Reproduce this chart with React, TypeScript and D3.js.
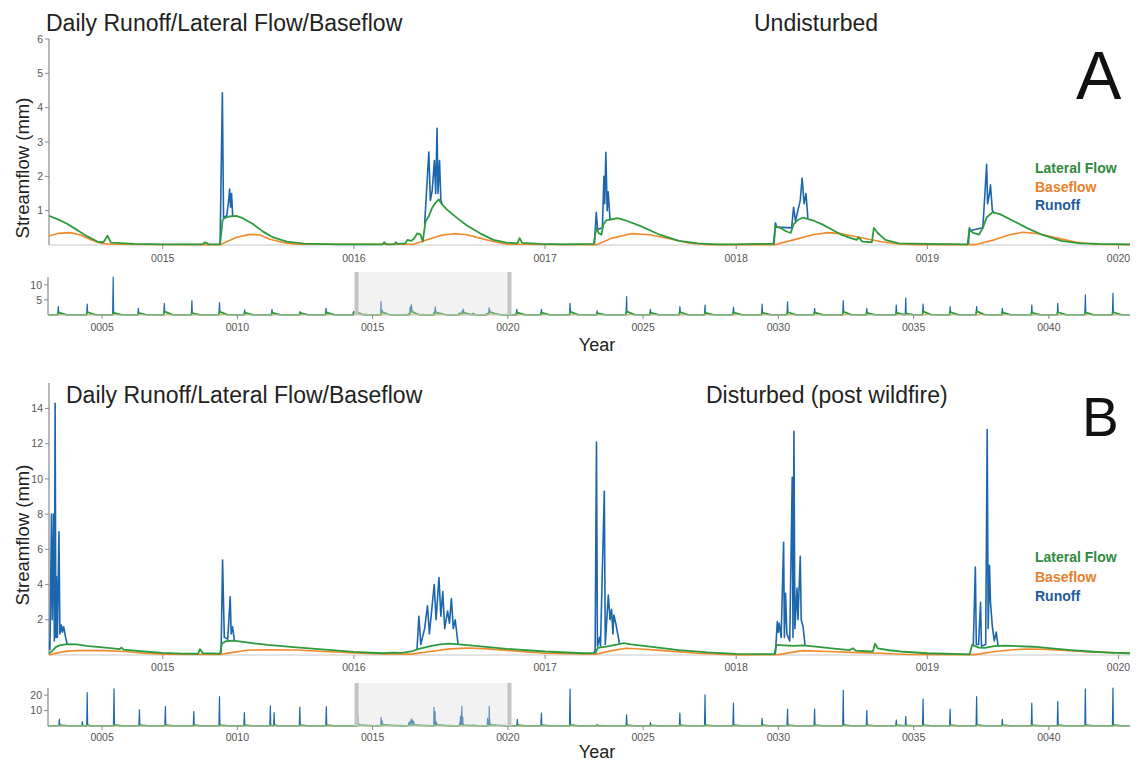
import React, { useEffect } from 'react';
import * as d3 from 'd3';

type P = [number, number];
type Ev = [number, number, number, number]; // year, runoff peak, lateral peak, baseflow peak

const W = 1137;
const H = 761;
const FOCUS_DOMAIN: [number, number] = [14.405, 20.06];
const CTX_DOMAIN: [number, number] = [3, 43];
const FX0 = 49, FX1 = 1130;
const CX0 = 48, CX1 = 1130;

const focusTicks = [15, 16, 17, 18, 19, 20];
const contextTicks = [5, 10, 15, 20, 25, 30, 35, 40];
const yTicksA = [1, 2, 3, 4, 5, 6];
const yTicksB = [2, 4, 6, 8, 10, 12, 14];
const ctxYTicksA = [5, 10];
const ctxYTicksB = [10, 20];
const legendNames = ['Lateral Flow', 'Baseflow', 'Runoff'];
const ctxEdgeFlow: P[] = [[3, 0.05], [43, 0.05]];

// ---------- Panel A (Undisturbed) ----------
const lateralA: P[] = [
  [14.405, 0.85], [14.455, 0.74], [14.499, 0.62], [14.552, 0.44], [14.605, 0.25], [14.658, 0.1], [14.69, 0.08],
  [14.711, 0.27], [14.729, 0.07], [14.853, 0.03], [15.0, 0.02], [15.207, 0.02], [15.224, 0.08], [15.24, 0.02],
  [15.3, 0.02], [15.313, 0.72], [15.322, 0.78], [15.348, 0.83], [15.384, 0.85], [15.419, 0.78], [15.472, 0.61],
  [15.525, 0.39], [15.578, 0.22], [15.649, 0.1], [15.738, 0.04], [15.915, 0.02], [16.15, 0.02], [16.159, 0.08],
  [16.17, 0.02], [16.21, 0.02], [16.219, 0.08], [16.23, 0.03], [16.27, 0.05], [16.28, 0.15], [16.3, 0.12],
  [16.314, 0.18], [16.332, 0.34], [16.349, 0.3], [16.36, 0.1], [16.375, 0.69], [16.392, 0.84], [16.409, 1.08],
  [16.427, 1.23], [16.444, 1.33], [16.461, 1.18], [16.487, 1.03], [16.539, 0.79], [16.591, 0.57], [16.66, 0.34],
  [16.729, 0.15], [16.798, 0.07], [16.855, 0.05], [16.867, 0.2], [16.88, 0.06], [16.97, 0.03], [17.1, 0.02],
  [17.255, 0.03], [17.268, 0.5], [17.28, 0.35], [17.295, 0.3], [17.305, 0.6], [17.32, 0.72], [17.35, 0.75],
  [17.38, 0.78], [17.42, 0.72], [17.5, 0.55], [17.6, 0.3], [17.7, 0.12], [17.8, 0.05], [17.9, 0.02], [18.0, 0.02],
  [18.1, 0.03], [18.195, 0.03], [18.205, 0.55], [18.23, 0.5], [18.26, 0.4], [18.285, 0.35], [18.3, 0.6],
  [18.32, 0.72], [18.35, 0.8], [18.4, 0.72], [18.45, 0.6], [18.5, 0.45], [18.55, 0.3], [18.6, 0.2], [18.63, 0.15],
  [18.64, 0.22], [18.66, 0.1], [18.71, 0.08], [18.72, 0.5], [18.74, 0.35], [18.78, 0.15], [18.85, 0.05],
  [19.0, 0.03], [19.21, 0.02], [19.22, 0.45], [19.24, 0.35], [19.27, 0.3], [19.29, 0.5], [19.31, 0.8],
  [19.34, 0.95], [19.38, 0.9], [19.45, 0.7], [19.52, 0.5], [19.6, 0.3], [19.7, 0.12], [19.8, 0.05], [19.9, 0.03],
  [20.06, 0.02],
];
const baseflowA: P[] = [
  [14.405, 0.26], [14.455, 0.34], [14.517, 0.36], [14.57, 0.29], [14.623, 0.15], [14.676, 0.05], [14.729, 0.02],
  [15.3, 0.01], [15.384, 0.22], [15.455, 0.31], [15.508, 0.29], [15.561, 0.17], [15.632, 0.07], [15.702, 0.02],
  [16.314, 0.02], [16.383, 0.15], [16.453, 0.28], [16.522, 0.33], [16.591, 0.3], [16.66, 0.2], [16.729, 0.1],
  [16.8, 0.02], [17.27, 0.01], [17.35, 0.2], [17.45, 0.33], [17.55, 0.3], [17.65, 0.18], [17.75, 0.06],
  [17.85, 0.01], [18.2, 0.01], [18.3, 0.15], [18.4, 0.3], [18.48, 0.36], [18.55, 0.33], [18.65, 0.22],
  [18.75, 0.1], [18.85, 0.03], [18.95, 0.01], [19.25, 0.01], [19.35, 0.15], [19.43, 0.3], [19.5, 0.37],
  [19.58, 0.33], [19.68, 0.2], [19.78, 0.08], [19.88, 0.02], [20.06, 0.01],
];
const runoffA: P[][] = [
  [[15.3, 0.02], [15.312, 4.43], [15.318, 0.8], [15.335, 0.85], [15.345, 1.3], [15.35, 1.63], [15.355, 1.1], [15.36, 1.5], [15.366, 0.84]],
  [[16.37, 0.6], [16.392, 2.71], [16.4, 1.3], [16.41, 1.6], [16.421, 2.46], [16.428, 1.5], [16.435, 3.4], [16.44, 1.5], [16.448, 2.46], [16.455, 1.3], [16.462, 1.18]],
  [[17.258, 0.03], [17.268, 0.95], [17.275, 0.45], [17.3, 0.5], [17.308, 2.0], [17.312, 1.2], [17.318, 2.7], [17.325, 1.0], [17.33, 1.55], [17.34, 0.74]],
  [[18.198, 0.03], [18.205, 0.65], [18.212, 0.52], [18.29, 0.5], [18.3, 1.1], [18.31, 0.7], [18.335, 1.3], [18.345, 1.95], [18.355, 1.2], [18.365, 1.5], [18.375, 0.78]],
  [[19.215, 0.02], [19.22, 0.5], [19.226, 0.42], [19.29, 0.5], [19.3, 1.4], [19.31, 2.35], [19.315, 1.2], [19.325, 1.5], [19.33, 1.75], [19.34, 1.0], [19.35, 0.94]],
];
const eventsA: Ev[] = [
  [3.38, 2.8, 0.9, 0.3], [4.45, 3.6, 1.0, 0.3], [5.41, 12.6, 0.8, 0.3], [6.34, 2.2, 0.7, 0.25], [7.3, 3.9, 1.2, 0.3],
  [8.32, 4.8, 0.6, 0.25], [9.34, 4.1, 1.1, 0.3], [10.27, 1.7, 0.8, 0.25], [11.28, 1.9, 0.8, 0.25], [12.32, 1.1, 0.7, 0.25],
  [13.28, 2.2, 0.9, 0.3], [14.3, 1.2, 0.9, 0.3], [20.33, 1.9, 0.9, 0.3], [21.24, 1.9, 0.8, 0.25], [22.3, 3.9, 1.1, 0.3],
  [23.3, 1.4, 0.6, 0.25], [24.39, 6.1, 1.2, 0.3], [25.27, 1.9, 0.8, 0.25], [26.36, 2.8, 1.0, 0.3], [27.29, 3.3, 0.8, 0.3],
  [28.34, 2.6, 0.9, 0.3], [29.4, 3.6, 0.8, 0.3], [30.34, 4.4, 1.0, 0.3], [31.34, 2.2, 0.9, 0.3], [32.4, 4.8, 1.1, 0.3],
  [33.27, 2.2, 0.7, 0.25], [34.36, 3.3, 0.8, 0.25], [34.71, 5.6, 0.5, 0.2], [35.35, 3.6, 1.2, 0.3], [36.35, 2.8, 1.0, 0.3],
  [37.33, 2.8, 1.3, 0.3], [38.28, 2.2, 0.9, 0.3], [39.37, 3.3, 0.8, 0.3], [40.33, 3.9, 1.0, 0.3], [41.35, 6.7, 0.9, 0.3],
  [42.37, 7.2, 1.0, 0.3],
];

// ---------- Panel B (Disturbed, post wildfire) ----------
const lateralB: P[] = [
  [14.405, 0.1], [14.42, 0.2], [14.44, 0.45], [14.46, 0.55], [14.5, 0.62], [14.55, 0.6], [14.6, 0.52], [14.7, 0.42],
  [14.775, 0.33], [14.784, 0.42], [14.795, 0.3], [14.9, 0.2], [15.0, 0.12], [15.1, 0.08], [15.185, 0.07],
  [15.195, 0.33], [15.21, 0.1], [15.3, 0.08], [15.31, 0.65], [15.33, 0.78], [15.37, 0.82], [15.45, 0.7],
  [15.55, 0.57], [15.7, 0.43], [15.85, 0.3], [16.0, 0.18], [16.15, 0.1], [16.2, 0.13], [16.25, 0.12], [16.3, 0.2],
  [16.34, 0.35], [16.4, 0.5], [16.45, 0.6], [16.5, 0.65], [16.55, 0.6], [16.65, 0.5], [16.8, 0.35], [17.0, 0.2],
  [17.2, 0.1], [17.265, 0.12], [17.275, 0.4], [17.32, 0.47], [17.38, 0.6], [17.41, 0.67], [17.45, 0.6],
  [17.55, 0.48], [17.7, 0.28], [17.85, 0.15], [18.0, 0.06], [18.2, 0.05], [18.21, 0.57], [18.25, 0.55],
  [18.3, 0.52], [18.35, 0.55], [18.416, 0.47], [18.5, 0.38], [18.593, 0.28], [18.61, 0.38], [18.625, 0.25],
  [18.7, 0.2], [18.715, 0.2], [18.726, 0.64], [18.74, 0.38], [18.8, 0.27], [18.858, 0.2], [19.0, 0.1],
  [19.221, 0.04], [19.234, 0.57], [19.27, 0.42], [19.3, 0.4], [19.35, 0.5], [19.407, 0.53], [19.549, 0.47],
  [19.65, 0.38], [19.75, 0.28], [19.85, 0.2], [19.95, 0.14], [20.06, 0.1],
];
const baseflowB: P[] = [
  [14.405, 0.0], [14.45, 0.12], [14.5, 0.22], [14.55, 0.25], [14.7, 0.25], [14.8, 0.2], [14.9, 0.1], [15.0, 0.05],
  [15.3, 0.03], [15.35, 0.12], [15.45, 0.28], [15.55, 0.3], [15.7, 0.28], [15.85, 0.2], [16.0, 0.12], [16.15, 0.06],
  [16.3, 0.05], [16.4, 0.2], [16.5, 0.35], [16.6, 0.4], [16.7, 0.35], [16.85, 0.22], [17.0, 0.1], [17.265, 0.04],
  [17.35, 0.25], [17.425, 0.38], [17.52, 0.33], [17.62, 0.25], [17.8, 0.1], [18.0, 0.0], [18.22, 0.02],
  [18.345, 0.25], [18.487, 0.2], [18.6, 0.15], [18.75, 0.1], [18.9, 0.03], [19.248, 0.02], [19.354, 0.2],
  [19.45, 0.3], [19.513, 0.34], [19.6, 0.33], [19.7, 0.27], [19.85, 0.18], [20.06, 0.1],
];
const runoffB: P[][] = [
  [[14.405, 0.8], [14.41, 0.3], [14.418, 8.0], [14.422, 2.0], [14.429, 8.0], [14.433, 0.8], [14.437, 14.3], [14.441, 1.0],
    [14.444, 4.45], [14.449, 1.0], [14.457, 7.0], [14.462, 1.2], [14.47, 1.7], [14.475, 1.3], [14.482, 1.6], [14.49, 1.1], [14.5, 0.62]],
  [[15.305, 0.08], [15.313, 5.4], [15.322, 1.0], [15.34, 0.9], [15.353, 3.3], [15.358, 1.2], [15.365, 1.6], [15.375, 0.82]],
  [[16.33, 0.3], [16.34, 2.2], [16.35, 0.6], [16.37, 1.5], [16.385, 2.8], [16.395, 1.2], [16.42, 4.0], [16.43, 2.0],
    [16.445, 4.4], [16.455, 2.2], [16.465, 3.6], [16.475, 1.5], [16.49, 2.5], [16.5, 1.8], [16.51, 3.2], [16.52, 1.5],
    [16.53, 2.0], [16.545, 0.62]],
  [[17.255, 0.1], [17.262, 0.3], [17.269, 12.1], [17.274, 0.5], [17.285, 1.0], [17.29, 0.5], [17.31, 9.3], [17.315, 0.6],
    [17.331, 3.4], [17.34, 2.0], [17.348, 2.6], [17.355, 1.2], [17.36, 2.27], [17.37, 1.8], [17.39, 0.62]],
  [[18.205, 0.06], [18.215, 1.9], [18.22, 1.3], [18.225, 1.8], [18.235, 1.0], [18.248, 6.4], [18.252, 1.0], [18.258, 3.5],
    [18.265, 1.2], [18.28, 0.8], [18.293, 10.1], [18.297, 1.0], [18.302, 12.7], [18.307, 1.5], [18.318, 3.8], [18.323, 2.0],
    [18.335, 5.6], [18.34, 2.0], [18.35, 1.6], [18.36, 0.55]],
  [[19.24, 0.5], [19.251, 5.0], [19.256, 0.6], [19.268, 0.6], [19.278, 3.0], [19.283, 0.5], [19.305, 0.6], [19.313, 12.8],
    [19.318, 1.5], [19.325, 5.1], [19.33, 3.0], [19.34, 1.6], [19.35, 0.8], [19.36, 1.3], [19.37, 0.5]],
];
const eventsB: Ev[] = [
  [3.42, 4.3, 0.6, 0.25], [4.27, 2.8, 0.3, 0.1], [4.45, 21.7, 0.7, 0.3], [5.44, 24.1, 0.7, 0.3], [6.38, 10.4, 0.5, 0.25],
  [7.34, 12.6, 0.6, 0.3], [8.39, 9.3, 0.5, 0.25], [9.34, 19.1, 0.6, 0.3], [10.26, 8.7, 0.5, 0.25], [11.22, 13.0, 0.5, 0.25],
  [11.36, 8.7, 0.5, 0.25], [12.31, 12.2, 0.5, 0.25], [13.29, 12.6, 0.6, 0.3], [20.35, 4.3, 0.5, 0.25], [21.24, 8.3, 0.5, 0.25],
  [22.3, 23.9, 0.7, 0.3], [23.3, 1.0, 0.3, 0.15], [24.39, 7.2, 0.6, 0.3], [25.27, 2.2, 0.4, 0.2], [26.36, 8.3, 0.5, 0.25],
  [27.29, 20.2, 0.6, 0.3], [28.34, 14.8, 0.6, 0.3], [29.4, 5.0, 0.5, 0.25], [30.34, 10.9, 0.5, 0.25], [31.34, 10.9, 0.5, 0.25],
  [32.4, 23.0, 0.7, 0.3], [33.27, 10.0, 0.5, 0.25], [34.36, 3.9, 0.5, 0.2], [34.71, 6.1, 0.4, 0.2], [35.35, 17.4, 0.6, 0.3],
  [36.35, 10.9, 0.6, 0.3], [37.33, 19.1, 0.7, 0.3], [38.28, 4.3, 0.5, 0.25], [39.37, 14.8, 0.5, 0.25], [40.33, 15.9, 0.6, 0.3],
  [41.35, 23.9, 0.6, 0.3], [42.37, 24.6, 0.7, 0.3],
];

const COLORS = {
  runoff: '#1c66ad',
  baseflow: '#f28a2a',
  lateral: '#2e9a3e',
  legRunoff: '#1f5c9e',
  legBase: '#e8802a',
  legLat: '#2f8a3e',
};
const FONT = '"Liberation Sans", Arial, Helvetica, sans-serif';

const inFocus = (t: number) => t > FOCUS_DOMAIN[0] - 0.001 && t < FOCUS_DOMAIN[1] + 0.001;
const byT = (a: P, b: P) => a[0] - b[0];

function ctxLateral(events: Ev[], detail: P[]): P[] {
  const pts: P[] = [];
  events.forEach(([t, , lat]) => { pts.push([t - 0.03, 0.03], [t, lat], [t + 0.3, 0.05]); });
  return pts.filter((p) => !inFocus(p[0])).concat(ctxEdgeFlow, detail).sort(byT);
}
function ctxBase(events: Ev[], detail: P[]): P[] {
  const pts: P[] = [];
  events.forEach(([t, , , b]) => { pts.push([t, 0.02], [t + 0.2, b], [t + 0.5, 0.02]); });
  return pts.filter((p) => !inFocus(p[0])).concat(ctxEdgeFlow, detail).sort(byT);
}
function ctxRunoff(events: Ev[], bursts: P[][]): P[][] {
  return events.map(([t, peak, lat]) => [[t - 0.02, 0.05], [t, peak], [t + 0.015, lat]] as P[]).concat(bursts);
}

interface PanelCfg {
  key: string;
  title: string; titleX: number; titleY: number; titleSize: number;
  sub: string; subX: number;
  letter: string; letterX: number; letterY: number; letterSize: number;
  top: number; bottom: number; yMax: number; yTicks: number[];
  ctxTop: number; ctxBottom: number; ctxMax: number; ctxTicks: number[];
  xLabelY: number; ctxLabelY: number; yearY: number;
  yLabelCY: number; legendY: number[];
  lateral: P[]; baseflow: P[]; runoff: P[][]; events: Ev[];
}

const panels: PanelCfg[] = [
  {
    key: 'A', title: 'Daily Runoff/Lateral Flow/Baseflow', titleX: 46, titleY: 31, titleSize: 23,
    sub: 'Undisturbed', subX: 754, letter: 'A', letterX: 1076, letterY: 99, letterSize: 68,
    top: 39, bottom: 245, yMax: 6, yTicks: yTicksA,
    ctxTop: 277, ctxBottom: 315, ctxMax: 12.6, ctxTicks: ctxYTicksA,
    xLabelY: 262, ctxLabelY: 331, yearY: 351, yLabelCY: 168, legendY: [173, 192, 210],
    lateral: lateralA, baseflow: baseflowA, runoff: runoffA, events: eventsA,
  },
  {
    key: 'B', title: 'Daily Runoff/Lateral Flow/Baseflow', titleX: 66, titleY: 403, titleSize: 23,
    sub: 'Disturbed (post wildfire)', subX: 706, letter: 'B', letterX: 1082, letterY: 436, letterSize: 55,
    top: 383, bottom: 655, yMax: 15.45, yTicks: yTicksB,
    ctxTop: 688, ctxBottom: 726, ctxMax: 24.6, ctxTicks: ctxYTicksB,
    xLabelY: 671, ctxLabelY: 741, yearY: 758, yLabelCY: 535, legendY: [562, 582, 601],
    lateral: lateralB, baseflow: baseflowB, runoff: runoffB, events: eventsB,
  },
];

const fmt = d3.format('04d');

function Panel({ p }: { p: PanelCfg }) {
  const x = d3.scaleLinear().domain(FOCUS_DOMAIN).range([FX0, FX1]);
  const y = d3.scaleLinear().domain([0, p.yMax]).range([p.bottom, p.top]);
  const cx = d3.scaleLinear().domain(CTX_DOMAIN).range([CX0, CX1]);
  const cy = d3.scaleLinear().domain([0, p.ctxMax]).range([p.ctxBottom, p.ctxTop]);
  const line = d3.line<P>().x((d) => x(d[0])).y((d) => y(d[1]));
  const cline = d3.line<P>().x((d) => cx(d[0])).y((d) => cy(d[1]));
  const clipId = `clip-${p.key}`;
  const cLat = ctxLateral(p.events, p.lateral);
  const cBase = ctxBase(p.events, p.baseflow);
  const cRun = ctxRunoff(p.events, p.runoff);
  const bx0 = cx(FOCUS_DOMAIN[0]);
  const bx1 = cx(FOCUS_DOMAIN[1]);
  const axisColor = '#8a8a8a';
  const tickColor = '#555';
  const legendColors = [COLORS.legLat, COLORS.legBase, COLORS.legRunoff];
  return (
    <g>
      <defs>
        <clipPath id={clipId}>
          <rect x={FX0} y={p.top - 10} width={FX1 - FX0} height={p.bottom - p.top + 11} />
        </clipPath>
      </defs>
      <text x={p.titleX} y={p.titleY} fontSize={p.titleSize} fill="#222" fontFamily={FONT}>{p.title}</text>
      <text x={p.subX} y={p.titleY} fontSize={p.titleSize} fill="#222" fontFamily={FONT}>{p.sub}</text>
      <text x={p.letterX} y={p.letterY} fontSize={p.letterSize} fill="#111" fontFamily={FONT}>{p.letter}</text>

      {/* focus y axis */}
      <line x1={FX0} x2={FX0} y1={y(0)} y2={y(p.yMax)} stroke={axisColor} strokeWidth={1.2} />
      {p.yTicks.map((t) => (
        <g key={t}>
          <line x1={FX0 - 4} x2={FX0} y1={y(t)} y2={y(t)} stroke={axisColor} />
          <text x={FX0 - 6} y={y(t)} dy="0.35em" textAnchor="end" fontSize={10.5} fill={tickColor} fontFamily={FONT}>{t}</text>
        </g>
      ))}
      {/* focus x axis */}
      <line x1={FX0} x2={FX1} y1={p.bottom} y2={p.bottom} stroke="#c8c8c8" strokeWidth={1} />
      {focusTicks.map((t) => (
        <g key={t}>
          <line x1={x(t)} x2={x(t)} y1={p.bottom} y2={p.bottom + 4} stroke={axisColor} />
          <text x={x(t)} y={p.xLabelY} textAnchor="middle" fontSize={10.5} fill={tickColor} fontFamily={FONT}>{fmt(t)}</text>
        </g>
      ))}
      <text transform={`translate(29,${p.yLabelCY}) rotate(-90)`} textAnchor="middle" fontSize={18.5} fill="#222" fontFamily={FONT}>Streamflow (mm)</text>

      {/* focus series */}
      <g clipPath={`url(#${clipId})`} fill="none" strokeLinejoin="round">
        {p.runoff.map((b, i) => (
          <path key={i} d={line(b) || ''} stroke={COLORS.runoff} strokeWidth={1.6} />
        ))}
        <path d={line(p.baseflow) || ''} stroke={COLORS.baseflow} strokeWidth={1.6} />
        <path d={line(p.lateral) || ''} stroke={COLORS.lateral} strokeWidth={1.8} />
      </g>

      {/* legend */}
      {legendNames.map((n, i) => (
        <text key={n} x={1035} y={p.legendY[i]} fontSize={14} fontWeight="bold" fill={legendColors[i]} fontFamily={FONT}>{n}</text>
      ))}

      {/* context */}
      <g fill="none" strokeLinejoin="round">
        {cRun.map((b, i) => (
          <path key={i} d={cline(b) || ''} stroke={COLORS.runoff} strokeWidth={1.2} />
        ))}
        <path d={cline(cBase) || ''} stroke="#f5b22a" strokeWidth={1.2} />
        <path d={cline(cLat) || ''} stroke={COLORS.lateral} strokeWidth={1.8} />
      </g>
      <line x1={CX0} x2={CX0} y1={cy(0)} y2={cy(p.ctxMax)} stroke={axisColor} strokeWidth={1.2} />
      {p.ctxTicks.map((t) => (
        <g key={t}>
          <line x1={CX0 - 4} x2={CX0} y1={cy(t)} y2={cy(t)} stroke={axisColor} />
          <text x={CX0 - 6} y={cy(t)} dy="0.35em" textAnchor="end" fontSize={10.5} fill={tickColor} fontFamily={FONT}>{t}</text>
        </g>
      ))}
      <line x1={CX0} x2={CX1} y1={p.ctxBottom} y2={p.ctxBottom} stroke="#c8c8c8" strokeWidth={1} />
      {contextTicks.map((t) => (
        <g key={t}>
          <line x1={cx(t)} x2={cx(t)} y1={p.ctxBottom} y2={p.ctxBottom + 4} stroke={axisColor} />
          <text x={cx(t)} y={p.ctxLabelY} textAnchor="middle" fontSize={10.5} fill={tickColor} fontFamily={FONT}>{fmt(t)}</text>
        </g>
      ))}
      {/* brush */}
      <rect x={bx0} y={p.ctxTop - 5} width={bx1 - bx0} height={p.ctxBottom - p.ctxTop + 5} fill="#d9d9d9" fillOpacity={0.35} />
      <rect x={bx0 - 2} y={p.ctxTop - 5} width={4} height={p.ctxBottom - p.ctxTop + 5} fill="#c4c4c4" />
      <rect x={bx1 - 2} y={p.ctxTop - 5} width={4} height={p.ctxBottom - p.ctxTop + 5} fill="#c4c4c4" />
      <text x={597} y={p.yearY} textAnchor="middle" fontSize={18} fill="#222" fontFamily={FONT}>Year</text>
    </g>
  );
}

export default function App() {
  useEffect(() => {
    document.body.style.margin = '0';
  }, []);
  return (
    <svg width={W} height={H} viewBox={`0 0 ${W} ${H}`} style={{ display: 'block', background: '#fff' }}>
      <rect x={0} y={0} width={W} height={H} fill="#fff" />
      {panels.map((p) => <Panel key={p.key} p={p} />)}
    </svg>
  );
}
